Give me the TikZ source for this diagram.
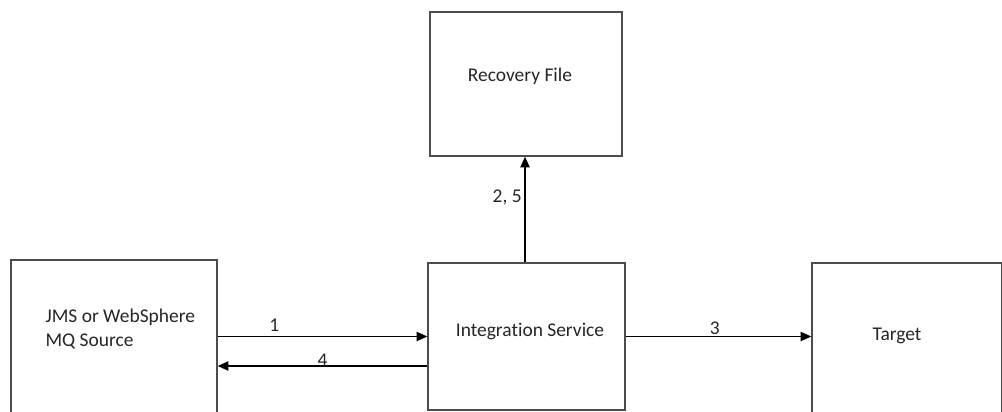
\documentclass[tikz,border=0pt]{standalone}
\usepackage{fontspec}
\setmainfont{Carlito}[Ligatures={NoCommon,NoContextual}]
\usetikzlibrary{arrows.meta}
\begin{document}
\begin{tikzpicture}[x=0.75pt, y=-0.75pt, font=\fontsize{14.6}{18}\selectfont, line join=miter, >={Triangle[length=8pt, width=7pt]}]
	\tikzset{box/.style={draw=black!70, line width=1.1pt, inner sep=0pt, minimum width=#1},
		lbl/.style={inner sep=1pt, text=black!85}}
	\useasboundingbox (0,0) rectangle (1002,411);
	\clip (0,0) rectangle (1002,411);
	% boxes
	\node[box=192*0.75pt, minimum height=144*0.75pt] (recovery) at (526,84) {};
	\node[box=206*0.75pt, minimum height=190*0.75pt] (source) at (114,355) {};
	\node[box=197*0.75pt, minimum height=147*0.75pt] (integ) at (526.5,336.5) {};
	\node[box=190*0.75pt, minimum height=170*0.75pt] (target) at (907,348) {};
	% texts
	\node[lbl] (recoverytxt) at (520,76) {Recovery File};
	\node[lbl, anchor=west, align=left] (sourcetxt) at (44,329.5) {JMS or WebSphere\\MQ Source};
	\node[lbl] (integtxt) at (530,331) {Integration Service};
	\node[lbl] (targettxt) at (897,336) {Target};
	% connectors
	\coordinate (back) at (integ.west |- 0,366);
	\draw[->, line width=1pt] (source.east |- integ.west) -- node[lbl, pos=0.27, above=2pt] (one) {1} (integ.west);
	\draw[->, line width=1pt] (back) -- node[lbl, pos=0.5, above=-2pt] (four) {4} (back -| source.east);
	\draw[->, line width=1pt] (integ.east) -- node[lbl, pos=0.48, above=0pt] (three) {3} (integ.east -| target.west);
	\draw[->, line width=1pt] (integ.north -| 525,0) -- node[lbl, pos=0.61, left=1pt] (twofive) {2, 5} (recovery.south -| 525,0);
\end{tikzpicture}
\end{document}
